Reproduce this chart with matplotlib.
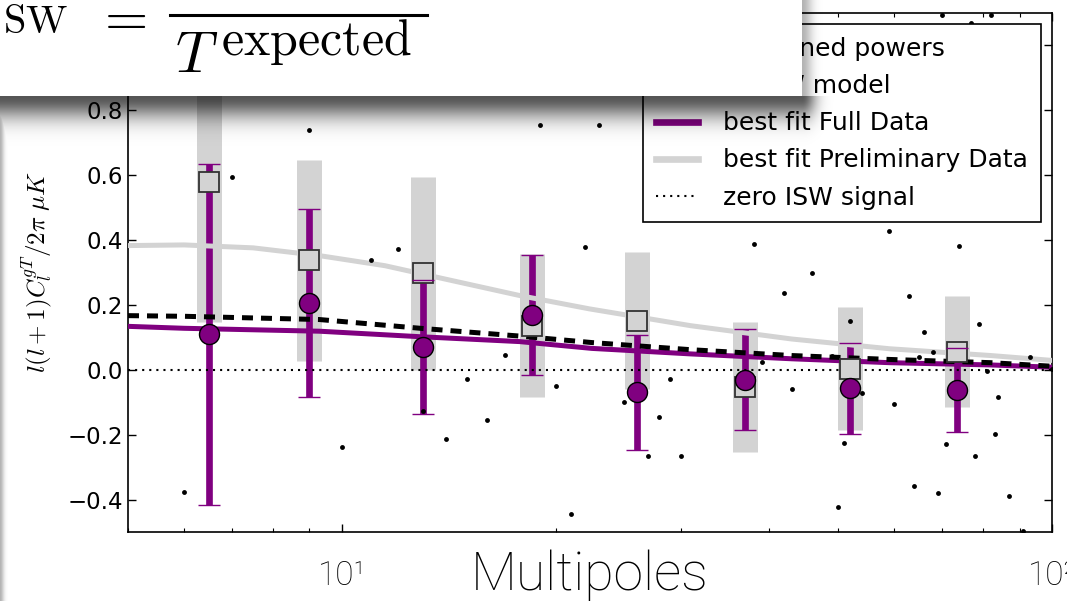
import numpy as np
import matplotlib
matplotlib.use("Agg")
import matplotlib.pyplot as plt
from matplotlib.patches import Rectangle
from matplotlib.lines import Line2D
from matplotlib.ticker import NullFormatter

plt.rcParams['mathtext.fontset'] = 'cm'
plt.rcParams['font.family'] = 'DejaVu Sans'

# --- figure geometry (pixels of the slide crop) ---
W, H, DPI = 1067, 601, 100
PURPLE = '#800080'
GREY = '#d3d3d3'

# --- binned cross powers ---
l_bins = [6.5, 9.0, 13.0, 18.5, 26.0, 37.0, 52.0, 73.5]
full_power = [0.109, 0.206, 0.070, 0.169, -0.069, -0.030, -0.057, -0.062]
full_err = [0.527, 0.289, 0.206, 0.186, 0.177, 0.155, 0.140, 0.130]
prelim_power = [0.579, 0.338, 0.297, 0.136, 0.152, -0.053, 0.003, 0.056]
prelim_err = [0.431, 0.310, 0.298, 0.220, 0.210, 0.200, 0.190, 0.172]

# --- individual multipoles (small black dots) ---
dot_l = [6, 7, 9, 10, 11, 12, 13, 14, 15, 16, 17, 19, 20, 21, 22, 23, 25, 27, 28, 29, 30,
         38, 39, 42, 43, 46, 49, 50, 51, 52, 54, 59, 60, 63, 64, 65, 66, 68, 69, 70, 71,
         74, 77, 78, 79, 81, 82, 83, 84, 87, 91, 93, 100]
dot_power = [-0.376, 0.593, 0.738, -0.239, 0.339, 0.372, -0.127, -0.212, -0.027, -0.156,
             0.047, 0.755, -0.050, -0.446, 0.379, 0.755, -0.098, -0.267, -0.147, -0.029,
             -0.267, 0.388, 0.025, 0.237, -0.059, 0.299, 0.043, -0.424, -0.227, 0.149,
             -0.072, 0.429, -0.106, 0.229, -0.358, 0.038, 0.116, 0.055, -0.379, 1.095,
             -0.230, 0.382, 1.068, -0.265, 0.142, -0.005, 1.095, -0.198, -0.085, -0.388,
             -0.496, 0.039, 0.003]

# --- model curves ---
prelim_fit_l = [5, 6, 7.5, 9.3, 11.5, 14.3, 17.8, 22.3, 31, 43, 59, 82, 100]
prelim_fit = [0.383, 0.385, 0.376, 0.352, 0.321, 0.275, 0.229, 0.188, 0.136, 0.095, 0.065, 0.044, 0.029]
full_fit_l = [5, 6, 9.3, 12.9, 17.8, 22.5, 31, 43, 59, 82, 100]
full_fit = [0.134, 0.128, 0.119, 0.102, 0.087, 0.066, 0.049, 0.034, 0.022, 0.015, 0.008]
model_l = [5, 6, 9.3, 12.9, 17.8, 22.5, 31, 43, 59, 82, 100]
model = [0.167, 0.165, 0.155, 0.128, 0.104, 0.084, 0.062, 0.044, 0.032, 0.022, 0.011]

y_ticks = [-0.4, -0.2, 0.0, 0.2, 0.4, 0.6, 0.8, 1.0]
x_ticks = [10, 100]
x_tick_labels = ['10¹', '10²']

# first two entries sit under the formula box; only their tails show
legend_labels = ['combined powers', 'fit ISW model', 'best fit Full Data',
                 'best fit Preliminary Data', 'zero ISW signal']

fig = plt.figure(figsize=(W / DPI, H / DPI), dpi=DPI)
ax = fig.add_axes([128 / W, 1 - 532 / H, (1052 - 128) / W, (532 - 13) / H])
ax.set_xscale('log')
ax.set_xlim(5, 100)
ax.set_ylim(-0.5, 1.1)

# grey bands for the preliminary data, purple bars for the full data
eb_p = ax.errorbar(l_bins, prelim_power, yerr=prelim_err, fmt='none', ecolor=GREY,
                   elinewidth=18, capsize=0, zorder=1)
eb_f = ax.errorbar(l_bins, full_power, yerr=full_err, fmt='none', ecolor=PURPLE,
                   elinewidth=4.8, capsize=8, capthick=1.0, zorder=2)
for lc in list(eb_p[2]) + list(eb_f[2]):
    lc.set_capstyle('butt')
for cap in eb_f[1]:
    cap.set_zorder(4.2)

ax.plot(prelim_fit_l, prelim_fit, color=GREY, lw=3.6, zorder=3)
ax.plot(full_fit_l, full_fit, color=PURPLE, lw=3.6, zorder=3)
ax.plot(model_l, model, color='k', lw=3.6, ls=(0, (2.2, 1.6)), zorder=3.1)
ax.axhline(0, color='k', lw=1.5, ls=(0, (1, 2.4)), zorder=3)

ax.plot(l_bins, prelim_power, 's', ms=15, mfc=GREY, mec='#333333', mew=1.3, zorder=4)
ax.plot(dot_l, dot_power, 'o', ms=3.5, color='k', mew=0, zorder=4.5)
ax.plot(l_bins, full_power, 'o', ms=14.4, mfc=PURPLE, mec='k', mew=1, zorder=5)

handles = [
    Line2D([], [], marker='o', ms=14.4, mfc=PURPLE, mec='k', ls='none'),
    Line2D([], [], color='k', lw=3.6, ls=(0, (2.2, 1.6))),
    Line2D([], [], color=PURPLE, lw=4.8),
    Line2D([], [], color=GREY, lw=4.8),
    Line2D([], [], color='k', lw=1.5, ls=(0, (1, 2.4))),
]
leg = ax.legend(handles, legend_labels, loc='upper right', fontsize=18, fancybox=False,
                edgecolor='k', framealpha=1, borderpad=0.5, handlelength=1.7,
                handletextpad=1.0, labelspacing=0.53, borderaxespad=0.45)
leg.get_frame().set_linewidth(1.2)
leg.set_zorder(10)

# axes styling
for sp in ax.spines.values():
    sp.set_linewidth(1.2)
ax.tick_params(which='both', direction='in', top=True, right=True, colors='k')
ax.tick_params(which='major', length=5.8, width=1)
ax.tick_params(which='minor', length=2.9, width=0.8)
ax.set_yticks(y_ticks)
ax.tick_params(axis='y', labelsize=16.5, pad=3.6)
ax.set_xticks(x_ticks, labels=x_tick_labels, fontfamily='Roboto', fontweight='light', fontsize=24)
ax.xaxis.set_minor_formatter(NullFormatter())
ax.tick_params(axis='x', which='major', pad=20)

ax.set_ylabel(r'$l(l+1)C_l^{gT}/2\pi\ \mu K$', fontsize=18)
ax.yaxis.set_label_coords(-0.0985, 0.5)
ax.yaxis.label.set_va('center')
ax.set_xlabel('Multipoles', fontfamily='Roboto', fontweight='light', fontsize=38.5)
ax.xaxis.set_label_coords(0.5, -0.1118)
ax.xaxis.label.set_va('baseline')

# --- slide overlay: drop shadow, white formula box ---
box_r, box_b = 802, 96
yy, xx = np.mgrid[0:H, 0:W] + 0.5
fx = np.where(xx <= box_r, 1.0, np.exp(-((xx - box_r) / 14.0) ** 2))
a_below = np.where(yy > box_b, 0.67 * np.exp(-((yy - box_b) / 22.0) ** 2) * fx, 0)
a_right = np.where((xx > box_r) & (yy <= box_b), 0.3 * np.exp(-((xx - box_r) / 10.0) ** 2), 0)
a_left = np.where(yy > box_b, 0.3 * np.exp(-(xx / 4.0) ** 2), 0)
shade = np.zeros((H, W, 4))
shade[..., 3] = np.maximum(np.maximum(a_below, a_right), a_left)

ov = fig.add_axes([0, 0, 1, 1], zorder=9)
ov.imshow(shade, extent=(0, W, H, 0), interpolation='nearest', aspect='auto')
ov.set_xlim(0, W)
ov.set_ylim(H, 0)
ov.patch.set_visible(False)
ov.set_axis_off()

fig.add_artist(Rectangle((0, 1 - box_b / H), box_r / W, box_b / H, transform=fig.transFigure,
                         facecolor='white', edgecolor='none', zorder=10))
fig.text(68 / W, 1 - 33 / H, r'$\mathrm{SW}$', ha='right', va='baseline', fontsize=29, zorder=11)
fig.text(121 / W, 1 - 33 / H, r'$=$', ha='center', va='baseline', fontsize=40, zorder=11)
fig.add_artist(Line2D([170 / W, 427 / W], [1 - 15 / H, 1 - 15 / H], color='k', lw=2.2,
                      transform=fig.transFigure, zorder=11))
fig.text(175 / W, 1 - 72 / H, r'$T$', ha='left', va='baseline', fontsize=42, zorder=11)
fig.text(221 / W, 1 - 55 / H, r'$\mathrm{expected}$', ha='left', va='baseline', fontsize=36, zorder=11)

fig.savefig('out.png', dpi=DPI)
